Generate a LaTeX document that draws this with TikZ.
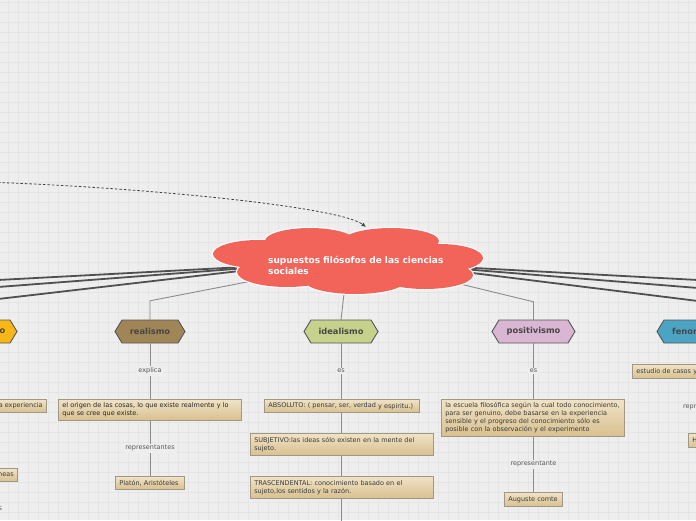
\documentclass[tikz,border=0pt]{standalone}
\usepackage{fontspec}
\setmainfont{DejaVu Sans}
\usetikzlibrary{arrows.meta}
\definecolor{bg}{HTML}{EEEEEE}
\definecolor{gridc}{HTML}{E5E5E5}
\definecolor{cloudc}{HTML}{F2645A}
\definecolor{thickc}{HTML}{505050}
\definecolor{conn}{HTML}{8C8C8C}
\definecolor{boxtop}{HTML}{F0E3C6}
\definecolor{boxbot}{HTML}{D8C090}
\definecolor{boxborder}{HTML}{A09884}
\definecolor{boxtext}{HTML}{3A3A3A}
\definecolor{lbltext}{HTML}{555555}
\definecolor{hexborder}{HTML}{555555}
\definecolor{hextext}{HTML}{474747}
\definecolor{cOrange}{HTML}{F8B716}
\definecolor{cBrown}{HTML}{A08557}
\definecolor{cGreen}{HTML}{C6D28B}
\definecolor{cPink}{HTML}{D9B6D2}
\definecolor{cTeal}{HTML}{4CA4C4}
\newcommand\hexa[6]{%
  \draw[hexline, fill=#5] ({#2-#4},#3) -- ({#2-#4+7},{#3-11.5}) -- ({#2+#4-7},{#3-11.5}) -- ({#2+#4},#3) -- ({#2+#4-7},{#3+11.5}) -- ({#2-#4+7},{#3+11.5}) -- cycle;
  \node[hexlabel, minimum width={2*#4}, minimum height=23] (#1) at (#2,#3) {#6};}
\begin{document}
\begin{tikzpicture}[x=1pt,y=-1pt,
  box/.style={draw=boxborder, line width=0.7pt, top color=boxtop, bottom color=boxbot, text=boxtext, font=\fontsize{6.5}{8}\selectfont, align=left, inner xsep=4pt, inner ysep=2pt, anchor=north west},
  lbl/.style={fill=bg, text=lbltext, font=\fontsize{6.5}{7.5}\selectfont, inner sep=1.5pt},
  thinconn/.style={draw=conn, line width=0.9pt},
  thickconn/.style={draw=thickc, line width=1.8pt},
  hexline/.style={draw=hexborder, line width=0.9pt},
  hexlabel/.style={font=\bfseries\fontsize{8.3}{10}\selectfont, text=hextext, inner sep=0pt},
  cloudedge/.style={draw=white, line width=2.4pt},
  dashconn/.style={draw=black!75, line width=0.8pt, dash pattern=on 2.5pt off 2pt, -{Latex[length=4.5pt,width=4pt]}},
]
\useasboundingbox (0,0) rectangle (696,520);
\clip (0,0) rectangle (696,520);
\fill[bg] (0,0) rectangle (696,520);
\foreach \x in {8,18,...,698} \draw[gridc, line width=1pt] (\x,0) -- (\x,520);
\foreach \y in {2,12,...,522} \draw[gridc, line width=1pt] (0,\y) -- (696,\y);

% hub coordinates inside the cloud
\coordinate (hubL) at (300,264);
\coordinate (hubR) at (400,264);
\coordinate (hubRe) at (252,281);
\coordinate (hubPo) at (452,282);
\coordinate (hubId) at (345,285);
\coordinate (L1) at (-2,280);
\coordinate (L2) at (-2,287);
\coordinate (L3) at (-2,299);
\coordinate (R1) at (698,280);
\coordinate (R2) at (698,288);
\coordinate (R3) at (698,301);
\coordinate (dstart) at (-2,182.5);

% hexagon nodes
\hexa{orange}{-40}{331.5}{57}{cOrange}{}
\node[hexlabel, anchor=east] (orangetxt) at (5.5,331.5) {o};
\hexa{realismo}{150}{331.5}{35}{cBrown}{realismo}
\hexa{idealismo}{341}{331.5}{37}{cGreen}{idealismo}
\hexa{positivismo}{533.5}{331.5}{41.5}{cPink}{positivismo}
\draw[hexline, fill=cTeal] (657,331.5) -- (664,320) -- (720,320) -- (720,343) -- (664,343) -- cycle;
\node[hexlabel, anchor=west] (fenom) at (672,331.5) {fenom};

% thick connectors to off-page topics
\draw[thickconn] (hubL) -- (L1);
\draw[thickconn] (hubL) -- (L2);
\draw[thickconn] (hubL) -- (L3);
\draw[thickconn] (hubR) -- (R1);
\draw[thickconn] (hubR) -- (R2);
\draw[thickconn] (hubR) -- (R3);
\draw[thinconn] (hubRe) -- ([yshift=19pt]realismo.north) -- (realismo.north);
\draw[thinconn] (hubPo) -- ([yshift=18pt]positivismo.north) -- (positivismo.north);
\draw[thinconn] (hubId) -- (idealismo.north);

% cloud
\begin{scope}
\foreach \cx/\cy/\rx/\ry in {258/254/45/14, 310/241/45/13, 391/241/48/13, 440/258/43/14, 425/275/48/14, 355/281/50/13, 287/272/50/15}
  \draw[cloudedge] (\cx,\cy) ellipse [x radius=\rx, y radius=\ry];
\foreach \cx/\cy/\rx/\ry in {258/254/45/14, 310/241/45/13, 391/241/48/13, 440/258/43/14, 425/275/48/14, 355/281/50/13, 287/272/50/15, 348/260/100/22}
  \fill[cloudc] (\cx,\cy) ellipse [x radius=\rx, y radius=\ry];
\end{scope}
\node[anchor=west, align=left, text=white, font=\bfseries\fontsize{9}{11}\selectfont, inner sep=0pt] (title) at (268,265) {supuestos filósofos de las ciencias\\sociales};
\coordinate (dend) at (366,227);
\draw[dashconn] (dstart) .. controls (150,188) and (340,207) .. (dend);

% realismo branch
\node[box, text width=175, minimum height=21, text=black!85] (re1) at (58,399) {el origen de las cosas, lo que existe realmente y lo\\que se cree que existe.};
\node[box, text width=61, minimum height=13] (re2) at (115,476) {Platón, Aristóteles};
\draw[thinconn] (realismo.south) -- node[lbl] {explica} (realismo.south |- re1.north);
\draw[thinconn] (re1.south -| realismo.south) -- node[lbl] {representantes} (realismo.south |- re2.north);

% idealismo branch
\node[box, text width=147, minimum height=13] (id1) at (264,399) {ABSOLUTO: ( pensar, ser, verdad \raisebox{-0.8pt}{y espiritu.)}};
\node[box, text width=175, minimum height=22] (id2) at (250,433) {SUBJETIVO:las ideas sólo existen en la mente del\\sujeto.};
\node[box, text width=175, minimum height=22] (id3) at (250,476) {TRASCENDENTAL: conocimiento basa\raisebox{-0.8pt}{do en el}\\sujeto,los sentidos y la razón.};
\coordinate (idend) at (342,522);
\draw[thinconn] (idealismo.south) -- node[lbl] {es} (idealismo.south |- id1.north);
\draw[thinconn] (id1.south -| idealismo.south) -- (idealismo.south |- id2.north);
\draw[thinconn] (id2.south -| idealismo.south) -- (idealismo.south |- id3.north);
\draw[thinconn] (id3.south -| idealismo.south) -- (idend -| idealismo.south);

% positivismo branch
\node[box, text width=175, minimum height=37] (po1) at (441,399) {la escuela filosófica según la cual todo conocimiento,\\para ser genuino, debe basarse en la experiencia\\sensible y el progreso del conocimiento sólo es\\posible con la observación y el experimento};
\node[box, text width=50, minimum height=14] (po2) at (504,492) {Auguste comte};
\draw[thinconn] (positivismo.south) -- node[lbl] {es} (positivismo.south |- po1.north);
\draw[thinconn] (po1.south -| positivismo.south) -- node[lbl] {representante} (positivismo.south |- po2.north);

% left fragments
\node[box, anchor=north east, minimum height=13] (lf1) at (47,399) {a experiencia};
\node[box, anchor=north east, minimum height=13] (lf2) at (18,468) {neas};
\node[lbl, anchor=west, fill=none, inner sep=0pt] (lf3) at (-1.5,509) {s};

% right fragments
\node[box, text width=80, minimum height=14] (rf1) at (632,364) {estudio de casos y};
\node[lbl, anchor=west, inner sep=0pt, fill=none] (rf2) at (683,407) {repr};
\node[box, text width=20, minimum height=14] (rf3) at (688,433) {H};
\end{tikzpicture}
\end{document}
